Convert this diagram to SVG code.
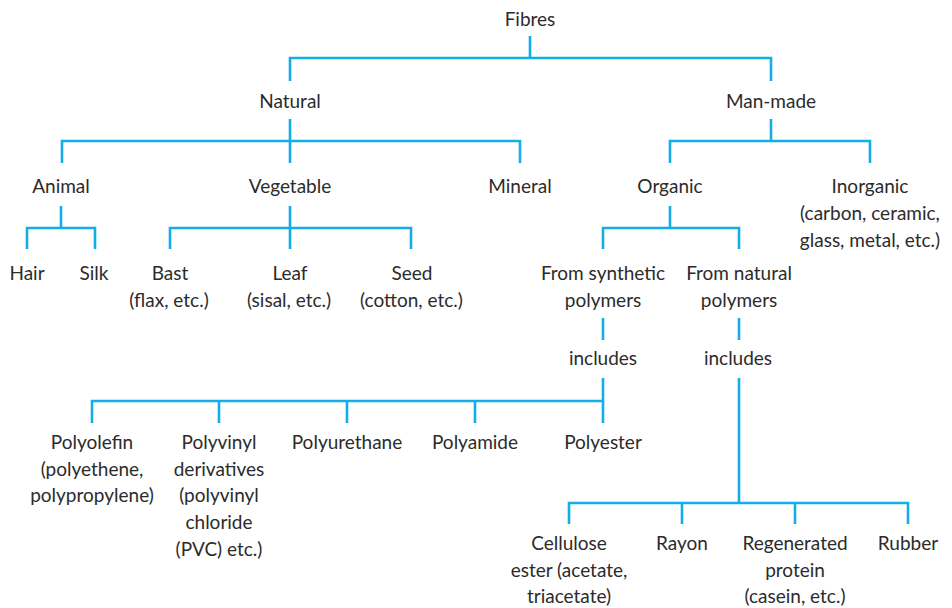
<svg xmlns="http://www.w3.org/2000/svg" width="952" height="608" viewBox="0 0 952 608">
<style>
text{font-family:Lato,"Open Sans","DejaVu Sans",sans-serif;font-size:19px;fill:#2b2b2b;text-anchor:middle}
.c{fill:none;stroke:#12aee8;stroke-width:2.6;stroke-linecap:butt;stroke-linejoin:miter}
</style>
<rect width="952" height="608" fill="#fff"/>
<g id="connectors" class="c">
<path d="M530 36V58M290 81V58H771V81"/>
<path d="M290 119V141M62 163V141H520V163M290 141V163"/>
<path d="M771 119V141M670 163V141H870V163"/>
<path d="M61 206V228M27 249V228H95V249"/>
<path d="M290 206V228M170 249V228H411V249M290 228V249"/>
<path d="M670 206V228M603 249V228H739V249"/>
<path d="M603 318V340M603 378V401M92 423V401H603V423M219 401V423M347 401V423M475 401V423"/>
<path d="M739 318V340M739 378V503M569 524V503H908V524M682 503V524M795 503V524"/>
</g>
<g id="fibres"><text x="530" y="26">Fibres</text></g>
<g id="natural"><text x="290" y="108">Natural</text></g>
<g id="man-made"><text x="771" y="108">Man-made</text></g>
<g id="animal"><text x="61" y="193">Animal</text></g>
<g id="vegetable"><text x="290" y="193">Vegetable</text></g>
<g id="mineral"><text x="520" y="193">Mineral</text></g>
<g id="organic"><text x="670" y="193">Organic</text></g>
<g id="inorganic"><text x="870" y="193">Inorganic</text><text x="870" y="220">(carbon, ceramic,</text><text x="870" y="247">glass, metal, etc.)</text></g>
<g id="hair"><text x="27" y="280">Hair</text></g>
<g id="silk"><text x="94" y="280">Silk</text></g>
<g id="bast"><text x="170" y="280">Bast</text><text x="169" y="307">(flax, etc.)</text></g>
<g id="leaf"><text x="290" y="280">Leaf</text><text x="289" y="307">(sisal, etc.)</text></g>
<g id="seed"><text x="412" y="280">Seed</text><text x="411.5" y="307">(cotton, etc.)</text></g>
<g id="synthetic"><text x="603" y="280">From synthetic</text><text x="603" y="307">polymers</text></g>
<g id="natural-polymers"><text x="739" y="280">From natural</text><text x="739" y="307">polymers</text></g>
<g id="includes-1"><text x="603" y="365">includes</text></g>
<g id="includes-2"><text x="738" y="365">includes</text></g>
<g id="polyolefin"><text x="92" y="449">Polyolefin</text><text x="92" y="476">(polyethene,</text><text x="92" y="502">polypropylene)</text></g>
<g id="polyvinyl"><text x="219" y="449">Polyvinyl</text><text x="219" y="476">derivatives</text><text x="219" y="502">(polyvinyl</text><text x="219" y="529">chloride</text><text x="219" y="556">(PVC) etc.)</text></g>
<g id="polyurethane"><text x="347" y="449">Polyurethane</text></g>
<g id="polyamide"><text x="475" y="449">Polyamide</text></g>
<g id="polyester"><text x="603" y="449">Polyester</text></g>
<g id="cellulose"><text x="569" y="550">Cellulose</text><text x="569" y="577">ester (acetate,</text><text x="569" y="603">triacetate)</text></g>
<g id="rayon"><text x="682" y="550">Rayon</text></g>
<g id="regenerated"><text x="795" y="550">Regenerated</text><text x="795" y="577">protein</text><text x="795" y="603">(casein, etc.)</text></g>
<g id="rubber"><text x="908" y="550">Rubber</text></g>
</svg>
